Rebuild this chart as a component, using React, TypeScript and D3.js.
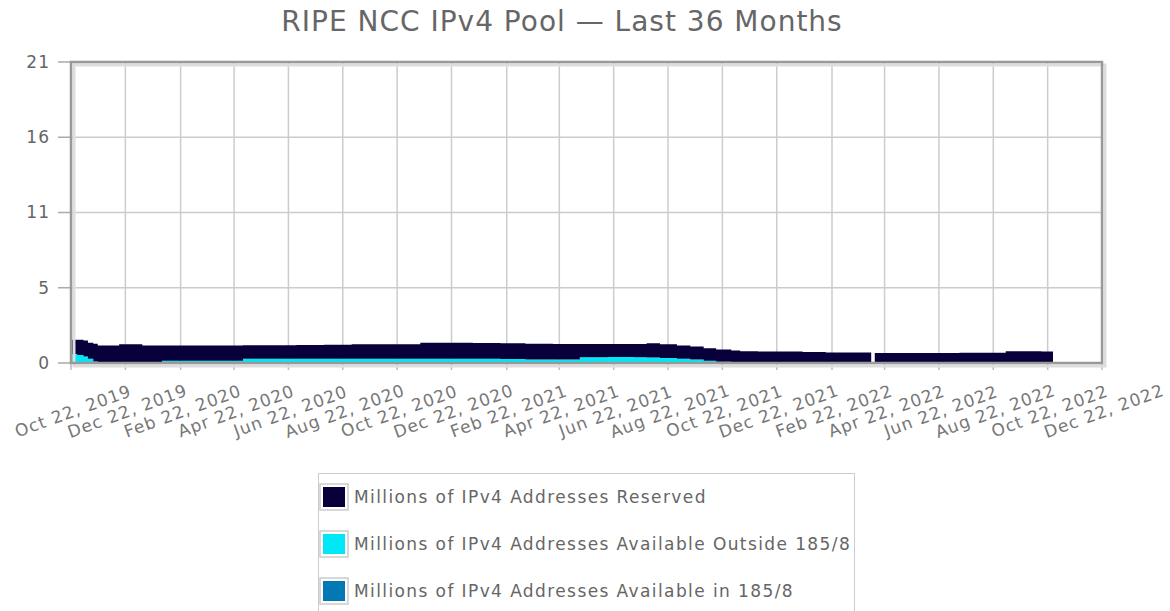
import * as d3 from "d3";
import React, { useEffect, useRef } from "react";

// sample dates (step data), total pool and the part available outside 185/8
const dates = [
  "2019-10-22", "2019-10-29", "2019-11-05", "2019-11-10", "2019-11-16", "2019-11-21",
  "2019-12-15", "2020-01-10", "2020-02-01", "2020-03-01", "2020-04-01", "2020-05-02",
  "2020-06-01", "2020-07-01", "2020-08-01", "2020-09-01", "2020-10-01", "2020-11-17",
  "2020-12-15", "2021-01-15", "2021-02-15", "2021-03-15", "2021-04-15", "2021-05-15",
  "2021-06-15", "2021-07-15", "2021-07-29", "2021-08-13", "2021-09-01", "2021-09-16",
  "2021-10-01", "2021-10-15", "2021-11-01", "2021-11-11", "2021-12-01", "2022-01-01",
  "2022-01-20", "2022-02-15", "2022-03-15", "2022-04-07", "2022-04-08", "2022-04-11",
  "2022-05-15", "2022-06-15", "2022-07-15", "2022-08-15", "2022-09-05", "2022-10-15",
  "2022-10-28",
];
const availableOutside = [
  0.63, 0.55, 0.45, 0.3, 0.1, 0, 0, 0, 0.15, 0.15, 0.15, 0.3,
  0.3, 0.3, 0.3, 0.3, 0.3, 0.3, 0.3, 0.3, 0.28, 0.25, 0.25, 0.4,
  0.42, 0.4, 0.38, 0.35, 0.3, 0.25, 0.15, 0.08, 0.03, 0, 0, 0,
  0, 0, 0, 0, null, 0, 0, 0, 0, 0, 0, 0,
  0,
];
const availableIn185 = [
  0, 0, 0, 0, 0, 0, 0, 0, 0, 0, 0, 0,
  0, 0, 0, 0, 0, 0, 0, 0, 0, 0, 0, 0,
  0, 0, 0, 0, 0, 0, 0, 0, 0, 0, 0, 0,
  0, 0, 0, 0, null, 0, 0, 0, 0, 0, 0, 0,
  0,
];
const reserved = [
  1.0, 1.07, 1.12, 1.12, 1.25, 1.22, 1.3, 1.22, 1.07, 1.07, 1.07, 0.93,
  0.93, 0.95, 0.97, 1.0, 1.0, 1.12, 1.12, 1.1, 1.1, 1.1, 1.08, 0.93,
  0.9, 0.92, 1.0, 0.95, 0.92, 0.9, 0.88, 0.86, 0.85, 0.82, 0.8, 0.8,
  0.76, 0.74, 0.74, 0.74, null, 0.7, 0.7, 0.7, 0.72, 0.72, 0.82, 0.8,
  0.8,
];

const xTicks = [
  "2019-10-22", "2019-12-22", "2020-02-22", "2020-04-22", "2020-06-22", "2020-08-22",
  "2020-10-22", "2020-12-22", "2021-02-22", "2021-04-22", "2021-06-22", "2021-08-22",
  "2021-10-22", "2021-12-22", "2022-02-22", "2022-04-22", "2022-06-22", "2022-08-22",
  "2022-10-22", "2022-12-22",
];
const yTicks = [0, 5.25, 10.5, 15.75, 21];

const legendLabels = [
  "Millions of IPv4 Addresses Reserved",
  "Millions of IPv4 Addresses Available Outside 185/8",
  "Millions of IPv4 Addresses Available in 185/8",
];
const colors = ["#07003a", "#00e8f8", "#0079b4"];

const W = 1170;
const H = 611;
const FONT = "'DejaVu Sans', Verdana, sans-serif";

const Chart: React.FC = () => {
  const ref = useRef<SVGSVGElement>(null);

  useEffect(() => {
    if (!ref.current) return;
    const svg = d3.select(ref.current);
    svg.selectAll("*").remove();

    const left = 71, right = 1102, top = 62, bottom = 363;
    const parse = d3.timeParse("%Y-%m-%d");
    const x = d3
      .scaleTime()
      .domain([parse(xTicks[0])!, parse(xTicks[xTicks.length - 1])!])
      .range([left, right]);
    const y = d3.scaleLinear().domain([0, 21]).range([bottom, top]);

    // title
    svg
      .append("text")
      .attr("x", 562)
      .attr("y", 31)
      .attr("text-anchor", "middle")
      .style("font-family", FONT)
      .style("font-size", "28px")
      .style("letter-spacing", "1px")
      .style("fill", "#666")
      .text("RIPE NCC IPv4 Pool \u2014 Last 36 Months");

    // grid
    const grid = svg.append("g");
    xTicks.forEach((t) => {
      const px = x(parse(t)!);
      grid.append("line").attr("x1", px).attr("x2", px).attr("y1", top).attr("y2", bottom)
        .attr("stroke", "#cccccc").attr("stroke-width", 1.5);
      grid.append("line").attr("x1", px).attr("x2", px).attr("y1", bottom).attr("y2", bottom + 7)
        .attr("stroke", "#bbbbbb").attr("stroke-width", 1.5);
    });
    yTicks.forEach((t) => {
      grid.append("line").attr("x1", left).attr("x2", right).attr("y1", y(t)).attr("y2", y(t))
        .attr("stroke", "#cccccc").attr("stroke-width", 1.5);
      grid.append("line").attr("x1", left - 13).attr("x2", left).attr("y1", y(t)).attr("y2", y(t))
        .attr("stroke", "#aaaaaa").attr("stroke-width", 1.5);
    });

    // stacked areas
    type Row = { date: Date; in185: number | null; outside: number | null; reserved: number | null };
    const rows: Row[] = dates.map((d, i) => ({
      date: parse(d)!,
      in185: availableIn185[i],
      outside: availableOutside[i],
      reserved: reserved[i],
    }));
    const keys = ["in185", "outside", "reserved"];
    const fills: Record<string, string> = { reserved: colors[0], outside: colors[1], in185: colors[2] };
    const stack = d3
      .stack<Row>()
      .keys(keys)
      .value((d, k) => ((d as any)[k] ?? 0) as number);
    const series = stack(rows);
    const area = d3
      .area<d3.SeriesPoint<Row>>()
      .defined((d) => d.data.reserved !== null)
      .curve(d3.curveStepAfter)
      .x((d) => x(d.data.date))
      .y0((d) => y(d[0]))
      .y1((d) => y(d[1]));
    svg
      .append("g")
      .selectAll("path")
      .data(series)
      .enter()
      .append("path")
      .attr("d", (s) => area(s) as string)
      .attr("fill", (s) => fills[s.key]);

    // frame with shadow
    svg.append("rect").attr("x", left + 3).attr("y", top + 3).attr("width", right - left).attr("height", bottom - top)
      .attr("fill", "none").attr("stroke", "#dddddd").attr("stroke-width", 3);
    svg.append("rect").attr("x", left).attr("y", top).attr("width", right - left).attr("height", bottom - top)
      .attr("fill", "none").attr("stroke", "#999999").attr("stroke-width", 2.5);

    // y labels
    svg.append("g").selectAll("text").data(yTicks).enter().append("text")
      .attr("x", 50).attr("y", (d) => y(d)).attr("dy", "0.35em").attr("text-anchor", "end")
      .style("font-family", FONT).style("font-size", "17px").style("letter-spacing", "1px")
      .style("fill", "#666")
      .text((d) => String(Math.round(d)));

    // x labels
    const fmt = d3.timeFormat("%b %d, %Y");
    svg.append("g").selectAll("text").data(xTicks).enter().append("text")
      .attr("transform", (d) => `translate(${x(parse(d)!) + 2},${411}) rotate(-20)`)
      .attr("text-anchor", "middle").attr("dy", "0.35em")
      .style("font-family", FONT).style("font-size", "17px").style("letter-spacing", "1px")
      .style("fill", "#777")
      .text((d) => fmt(parse(d)!));

    // legend
    const lg = svg.append("g");
    lg.append("rect").attr("x", 318.5).attr("y", 473.5).attr("width", 536).attr("height", 160)
      .attr("fill", "#fff").attr("stroke", "#cccccc");
    legendLabels.forEach((label, i) => {
      const cy = 497 + i * 47;
      lg.append("rect").attr("x", 320).attr("y", cy - 13).attr("width", 28).attr("height", 26)
        .attr("fill", "#fff").attr("stroke", "#cccccc").attr("stroke-width", 1.5);
      lg.append("rect").attr("x", 323).attr("y", cy - 10).attr("width", 22).attr("height", 20)
        .attr("fill", colors[i]);
      lg.append("text").attr("x", 354).attr("y", cy).attr("dy", "0.35em")
        .style("font-family", FONT).style("font-size", "17px").style("letter-spacing", "1.4px")
        .style("fill", "#666")
        .text(label);
    });
  }, []);

  return <svg ref={ref} width={W} height={H} style={{ position: "absolute", left: 0, top: 0 }} />;
};

export default function App() {
  return <Chart />;
}
